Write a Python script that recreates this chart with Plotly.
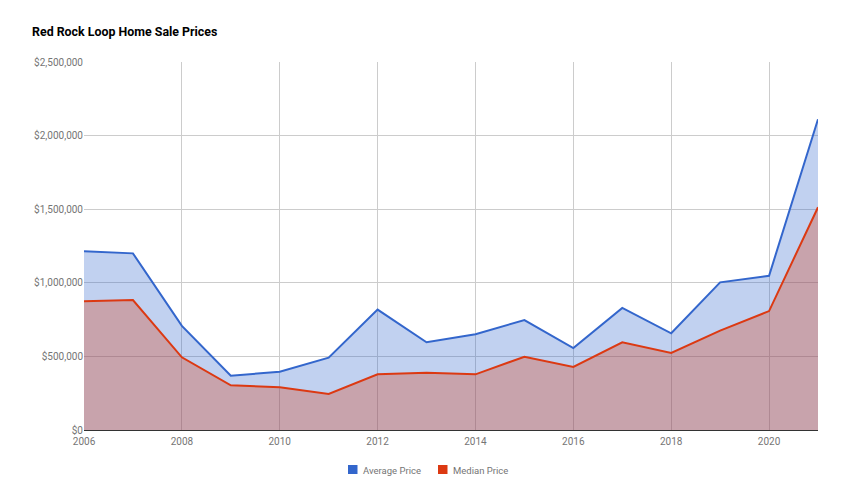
import plotly.graph_objects as go

years = list(range(2006, 2022))
average_price = [1215000, 1200000, 707000, 369000, 396000, 491000, 818000, 596000,
                 650000, 747000, 557000, 829000, 657000, 1003000, 1048000, 2111000]
median_price = [875000, 883000, 494000, 304000, 290000, 245000, 378000, 389000,
                378000, 498000, 428000, 596000, 523000, 675000, 808000, 1513000]
series_names = ["Average Price", "Median Price"]
x_ticks = list(range(2006, 2021, 2))
y_ticks = [0, 500000, 1000000, 1500000, 2000000, 2500000]
y_labels = ["$0", "$500,000", "$1,000,000", "$1,500,000", "$2,000,000", "$2,500,000"]

blue = "#3366cc"
red = "#dc3912"
font = "Roboto, Arial, sans-serif"

# the page body has an 8px margin; compensate so the picture lands at page coords
OFF = 8
W, H = 850 - OFF, 500 - OFF
PL, PR, PT, PB = 84, 818, 62, 430  # plot area in page pixels
PW, PH = PR - PL, PB - PT

fig = go.Figure()
for name, vals, col, fc in [
    (series_names[0], average_price, blue, "rgba(51,102,204,0.3)"),
    (series_names[1], median_price, red, "rgba(220,57,18,0.3)"),
]:
    fig.add_trace(go.Scatter(x=years, y=vals, mode="lines", fill="tozeroy",
                             fillcolor=fc, line=dict(color=col, width=2),
                             name=name, showlegend=False, hoverinfo="x+y"))

legend_items = [(series_names[0], blue, 348), (series_names[1], red, 438)]
shapes = []
annotations = []
for name, col, px in legend_items:
    shapes.append(dict(type="rect", xref="paper", yref="paper",
                       x0=(px - PL) / PW, x1=(px + 9.5 - PL) / PW,
                       y0=(PB - 474) / PH, y1=(PB - 465) / PH,
                       fillcolor=col, line=dict(width=0)))
    annotations.append(dict(text=name, xref="paper", yref="paper",
                            x=(px + 13 - PL) / PW, y=(PB - 470) / PH,
                            xanchor="left", yanchor="middle", showarrow=False,
                            font=dict(family=font, size=9.5, color="#757575")))

fig.update_layout(
    width=W, height=H,
    margin=dict(l=PL - OFF, r=W - (PR - OFF), t=PT - OFF, b=H - (PB - OFF), autoexpand=False),
    paper_bgcolor="white", plot_bgcolor="white",
    font=dict(family=font, size=10, color="#757575"),
    title=dict(text="<b>Red Rock Loop Home Sale Prices</b>", x=(32 - OFF) / W, xanchor="left",
               y=1 - (32 - OFF) / H, yanchor="middle",
               font=dict(family=font, size=12.4, color="#000")),
    xaxis=dict(range=[2006, 2021], tickvals=x_ticks, showgrid=True, gridcolor="#cccccc",
               gridwidth=1, zeroline=False, showline=False, ticks="", automargin=False,
               ticklabelstandoff=4, tickfont=dict(size=10, color="#757575")),
    yaxis=dict(range=[0, 2500000], tickvals=y_ticks, ticktext=y_labels, showgrid=True,
               gridcolor="#cccccc", gridwidth=1, zeroline=True, zerolinecolor="#333333",
               zerolinewidth=1, showline=False, ticks="", automargin=False,
               tickfont=dict(size=10, color="#757575")),
    showlegend=False,
    shapes=shapes,
    annotations=annotations,
)

fig.write_html("out.html")
